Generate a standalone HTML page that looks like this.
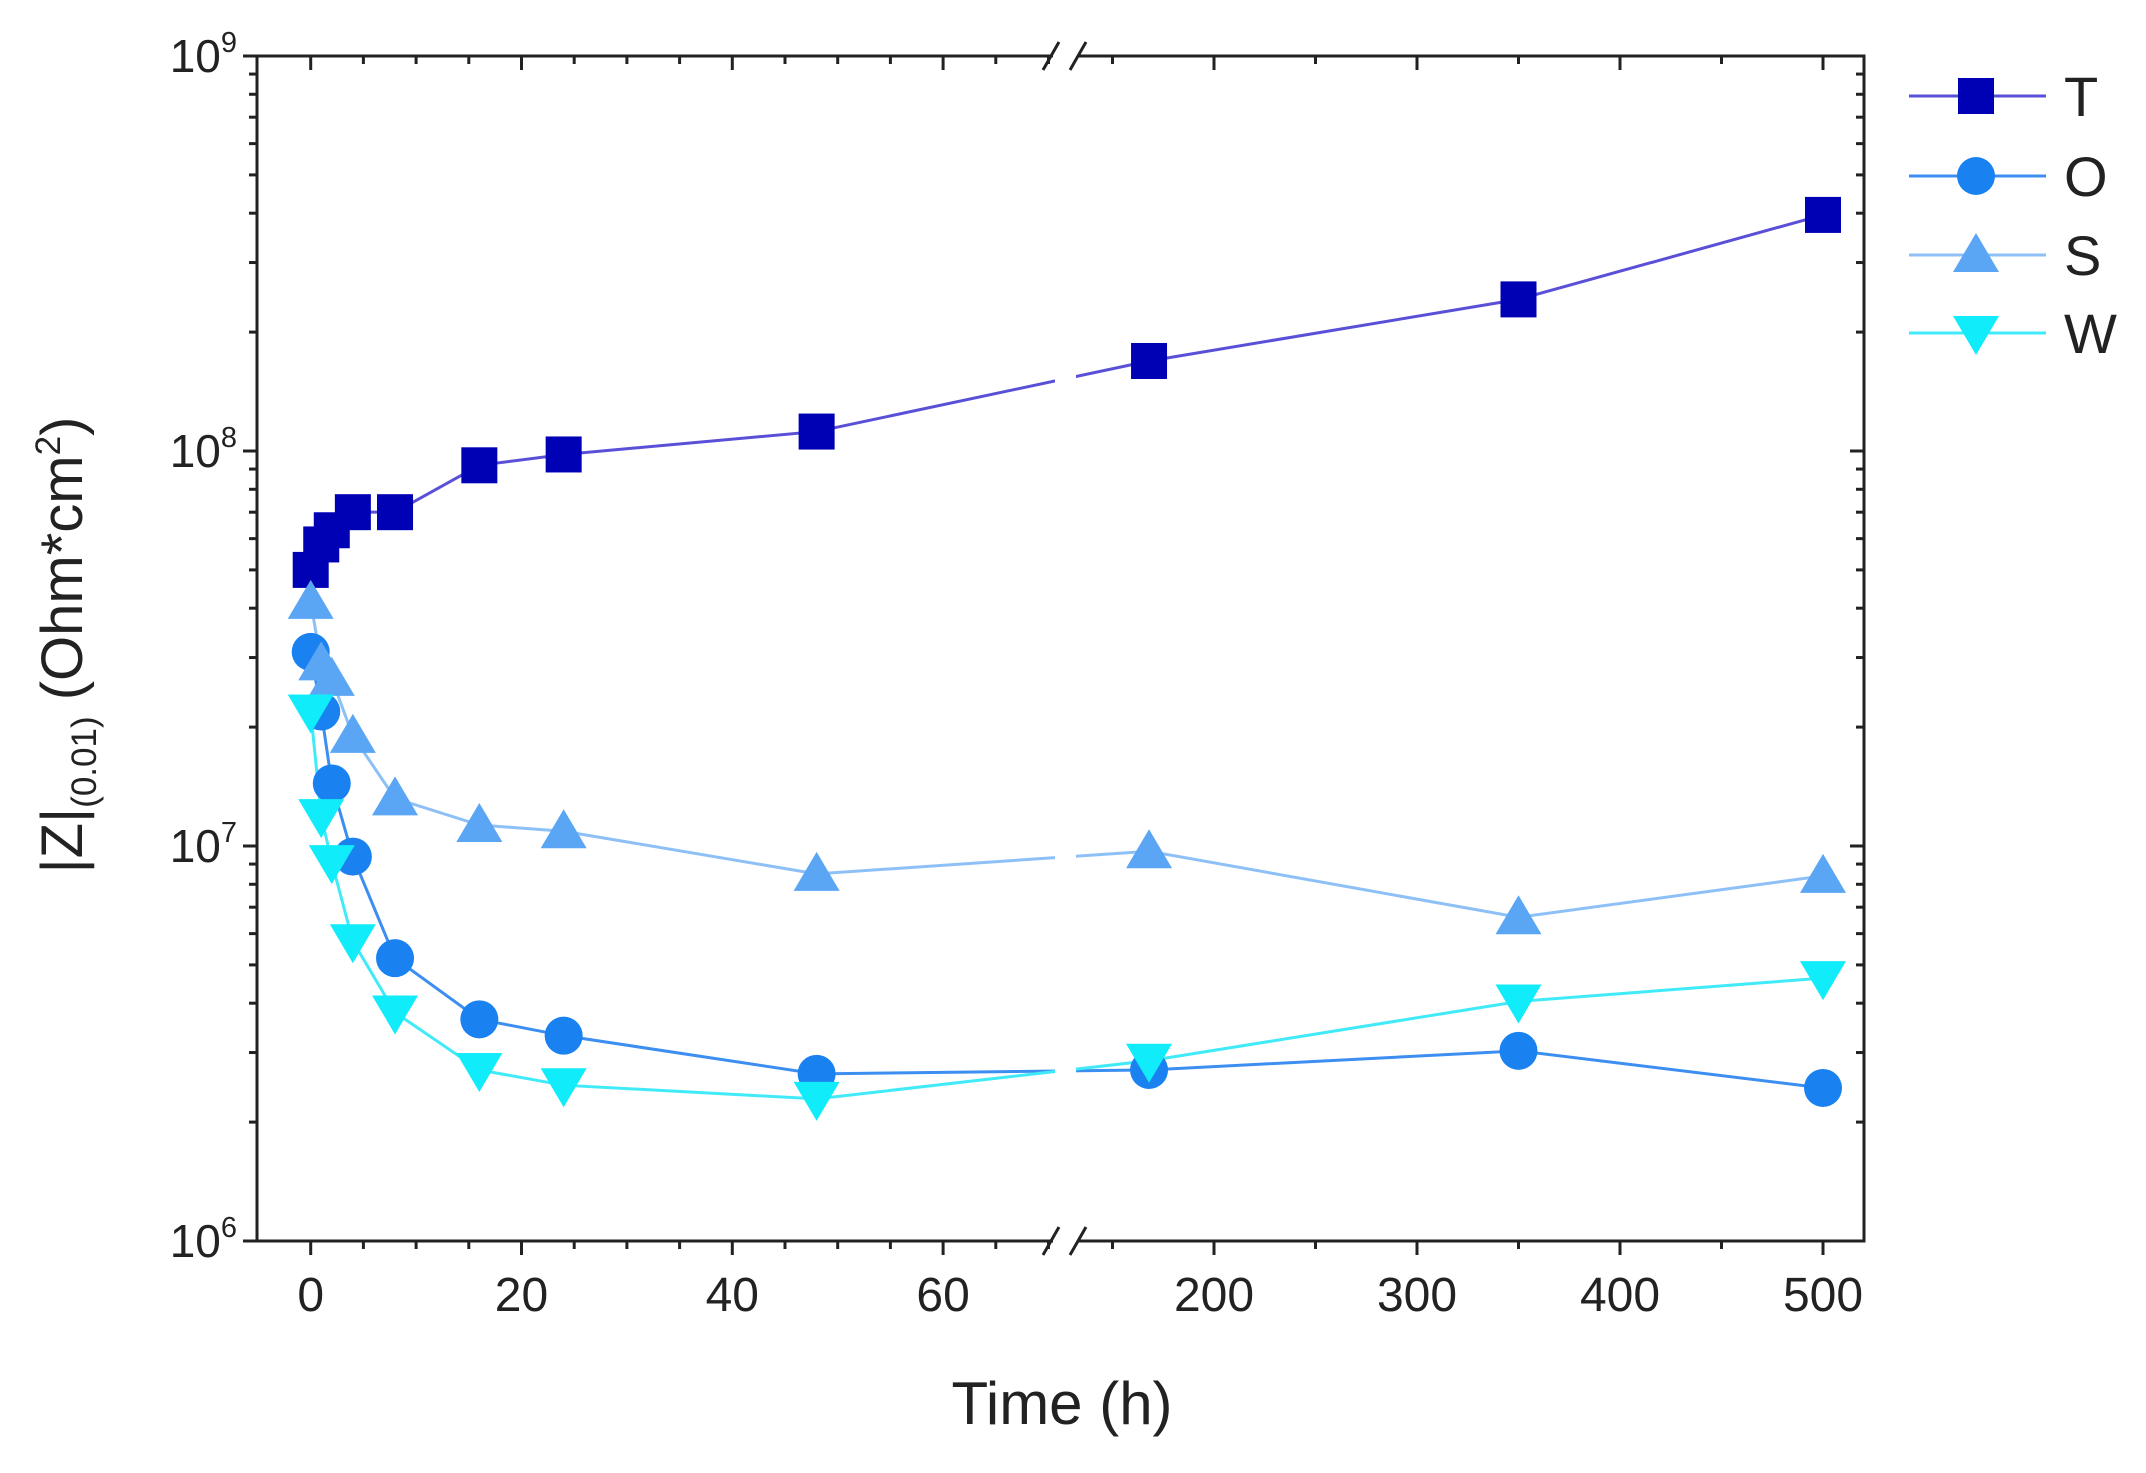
<!DOCTYPE html>
<html><head><meta charset="utf-8"><style>
html,body{margin:0;padding:0;background:#fff;}
svg{display:block;font-family:"Liberation Sans",Arial,sans-serif;}
</style></head><body>
<svg id="chart" width="2146" height="1473" viewBox="0 0 2146 1473" xmlns="http://www.w3.org/2000/svg">
<g id="axes"></g>
<g id="series"></g>
<g id="legend"></g>
<text x="1062" y="1424" font-size="60" text-anchor="middle" fill="#222">Time (h)</text>
<text transform="translate(82,645) rotate(-90)" font-size="58" text-anchor="middle" fill="#222">|Z|<tspan font-size="35" dy="14">(0.01)</tspan><tspan dy="-14"> (Ohm*cm</tspan><tspan font-size="35" dy="-22">2</tspan><tspan dy="22">)</tspan></text>
</svg>
<script>
const times = [0,1,2,4,8,16,24,48,168,350,500];
const seriesNames = ["T","O","S","W"];
const valuesT = [5.0e7,5.8e7,6.3e7,7.0e7,7.0e7,9.2e7,9.8e7,1.12e8,1.69e8,2.42e8,3.96e8];
const valuesO = [3.1e7,2.19e7,1.44e7,9.4e6,5.2e6,3.64e6,3.31e6,2.65e6,2.71e6,3.03e6,2.44e6];
const valuesS = [4.15e7,2.9e7,2.65e7,1.9e7,1.32e7,1.13e7,1.09e7,8.5e6,9.7e6,6.6e6,8.4e6];
const valuesW = [2.19e7,1.19e7,9.1e6,5.74e6,3.79e6,2.71e6,2.48e6,2.29e6,2.86e6,4.04e6,4.63e6];
const xTicksLeft = [0,20,40,60];
const xTicksRight = [200,300,400,500];
const yDecades = [6,7,8,9];

const NS="http://www.w3.org/2000/svg";
const L=257,R=1864,T=56,B=1241;
const breakL=1053,breakR=1078;
function x(t){ return t<=70 ? 310.7+t*10.54 : 1214+(t-200)*2.03; }
function y(v){ return B-(Math.log10(v)-6)*(B-T)/3; }
function mk(tag,attrs,parent){const e=document.createElementNS(NS,tag);for(const k in attrs)e.setAttribute(k,attrs[k]);parent.appendChild(e);return e;}
const ax=document.getElementById('axes');
const frame=mk('path',{d:`M${breakL} ${T}H${L}V${B}H${breakL} M${breakR} ${T}H${R}V${B}H${breakR}`,fill:'none',stroke:'#222','stroke-width':3},ax);


[T,B].forEach(yy=>{
  const g=mk('path',{d:`M${breakL-10} ${yy+14}L${breakL+6} ${yy-14}M${breakR-8} ${yy+14}L${breakR+8} ${yy-14}`,stroke:'#222','stroke-width':3,fill:'none'},ax);
  
  
});
const minorL=[];for(let t=-5;t<=70;t+=5)minorL.push(t);
const minorR=[];for(let t=150;t<=500;t+=50)minorR.push(t);
minorL.concat(minorR).forEach(t=>{
  const xx=x(t); if(xx<=L+1||xx>=R-1)return;
  const major=xTicksLeft.includes(t)||xTicksRight.includes(t);
  const len=major?14:8;
  mk('line',{x1:xx,x2:xx,y1:B,y2:B+len,stroke:'#222','stroke-width':3},ax);
  mk('line',{x1:xx,x2:xx,y1:T,y2:T+len,stroke:'#222','stroke-width':3},ax);
});
xTicksLeft.concat(xTicksRight).forEach(t=>{
  const tx=mk('text',{x:x(t),y:B+70,'font-size':48,'text-anchor':'middle',fill:'#222'},ax);
  tx.textContent=t;
  
  
});
yDecades.forEach(d=>{
  const yy=y(Math.pow(10,d));
  mk('line',{x1:L-14,x2:L,y1:yy,y2:yy,stroke:'#222','stroke-width':3},ax);
  mk('line',{x1:R-14,x2:R,y1:yy,y2:yy,stroke:'#222','stroke-width':3},ax);
  const tx=mk('text',{x:L-20,y:yy+16,'font-size':46,'text-anchor':'end',fill:'#222'},ax);
  tx.innerHTML='10<tspan font-size="29" dy="-20">'+d+'</tspan>';
  
  
  if(d<9){for(let m=2;m<=9;m++){const ym=y(m*Math.pow(10,d));
    mk('line',{x1:L-8,x2:L,y1:ym,y2:ym,stroke:'#222','stroke-width':3},ax);
    mk('line',{x1:R-8,x2:R,y1:ym,y2:ym,stroke:'#222','stroke-width':3},ax);}}
});
const sg=document.getElementById('series');
const defs=[
 {name:'T',vals:valuesT,line:'#5a50d8',fill:'#0000b4',shape:'square'},
 {name:'O',vals:valuesO,line:'#3c8ef0',fill:'#1a82f0',shape:'circle'},
 {name:'S',vals:valuesS,line:'#8ec0f8',fill:'#5aa6f4',shape:'up'},
 {name:'W',vals:valuesW,line:'#40eaf8',fill:'#10ecfa',shape:'down'}
];
function marker(shape,cx,cy,fill,parent){
  if(shape==='square')return mk('rect',{x:cx-18,y:cy-18,width:36,height:36,fill:fill},parent);
  if(shape==='circle')return mk('circle',{cx:cx,cy:cy,r:19,fill:fill},parent);
  if(shape==='up')return mk('path',{d:`M${cx} ${cy-22}L${cx+23} ${cy+17}L${cx-23} ${cy+17}Z`,fill:fill},parent);
  return mk('path',{d:`M${cx} ${cy+22}L${cx+23} ${cy-17}L${cx-23} ${cy-17}Z`,fill:fill},parent);
}
defs.forEach(s=>{
  const pts=times.map((t,i)=>x(t)+','+y(s.vals[i])).join(' ');
  const pl=mk('polyline',{points:pts,fill:'none',stroke:s.line,'stroke-width':3},sg);
  
  
});
mk('rect',{x:breakL+2,y:T+20,width:breakR-breakL-4,height:B-T-40,fill:'#fff'},sg);
defs.forEach(s=>{
  times.forEach((t,i)=>{
    const m=marker(s.shape,x(t),y(s.vals[i]),s.fill,sg);
    
    
  });
});
const lg=document.getElementById('legend');
const rows=[96,176,255,333];
defs.forEach((s,i)=>{
  const g=mk('g',{},lg);
  
  
  mk('line',{x1:1909,x2:2046,y1:rows[i],y2:rows[i],stroke:s.line,'stroke-width':3},g);
  marker(s.shape,1976,rows[i],s.fill,g);
  const tx=mk('text',{x:2064,y:rows[i]+20,'font-size':56,fill:'#222'},g);
  tx.textContent=seriesNames[i];
});
</script>
</body></html>
